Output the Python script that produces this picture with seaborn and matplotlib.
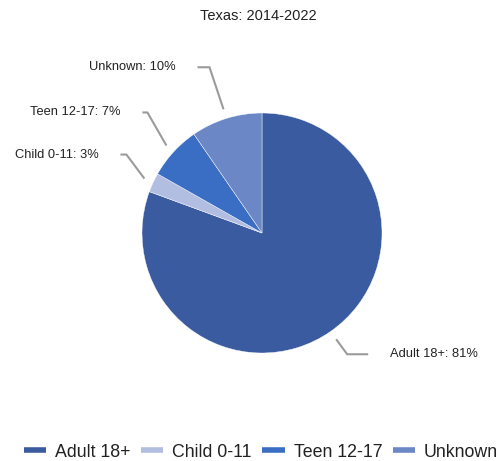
import numpy as np
import seaborn as sns
import matplotlib.pyplot as plt
from matplotlib.lines import Line2D

title = "Texas: 2014-2022"
groups = ["Adult 18+", "Child 0-11", "Teen 12-17", "Unknown"]
shares = [80.6, 2.6, 7.2, 9.6]
colors = ["#3a5ba0", "#b1bde1", "#3a6ec4", "#6b87c6"]

sns.set_theme(style="white")
plt.rcParams["font.family"] = ["Liberation Sans", "DejaVu Sans"]

W, H = 501, 461
fig = plt.figure(figsize=(W / 100, H / 100), dpi=100)
ax = fig.add_axes([0, 0, 1, 1])

# axes work in pixel units so the layout is easy to place
cx, cy, R = 262, H - 233, 120
wedges, _ = ax.pie(shares, colors=colors, startangle=90, counterclock=False,
                   center=(cx, cy), radius=R, frame=True,
                   wedgeprops=dict(linewidth=0.3, edgecolor="white"))
ax.set_xlim(0, W)
ax.set_ylim(0, H)
ax.axis("off")

# leader line layout per slice: elbow offset (dx, dy) and horizontal run
leader = {
    "Adult 18+": (11, -15, 21),
    "Child 0-11": (-18, 24, -6),
    "Teen 12-17": (-19, 33, -5),
    "Unknown": (-14, 42, -12),
}
for w, g, v in zip(wedges, groups, shares):
    mid = np.deg2rad((w.theta1 + w.theta2) / 2)
    x0 = cx + 1.08 * R * np.cos(mid)
    y0 = cy + 1.08 * R * np.sin(mid)
    dx, dy, run = leader[g]
    x1, y1 = x0 + dx, y0 + dy
    x2 = x1 + run
    ax.plot([x0, x1, x2], [y0, y1, y1], color="#9b9b9b", lw=1.5,
            solid_capstyle="butt", solid_joinstyle="miter")
    side = 1 if run > 0 else -1
    ax.text(x2 + side * 22, y1, f"{g}: {v:.0f}%",
            ha="left" if side > 0 else "right", va="center",
            fontsize=9.3, color="#222222")

ax.text(258, H - 16, title, ha="center", va="center", fontsize=10.5, color="#222222")

handles = [Line2D([], [], color=c, lw=4, solid_capstyle="butt") for c in colors]
fig.legend(handles, groups, loc="center", bbox_to_anchor=(261 / W, 1 - 452 / H),
           ncol=4, frameon=False, fontsize=12.8, handlelength=1.25,
           handletextpad=0.5, columnspacing=0.6, labelcolor="#222222")

fig.savefig("out.png", dpi=100)
